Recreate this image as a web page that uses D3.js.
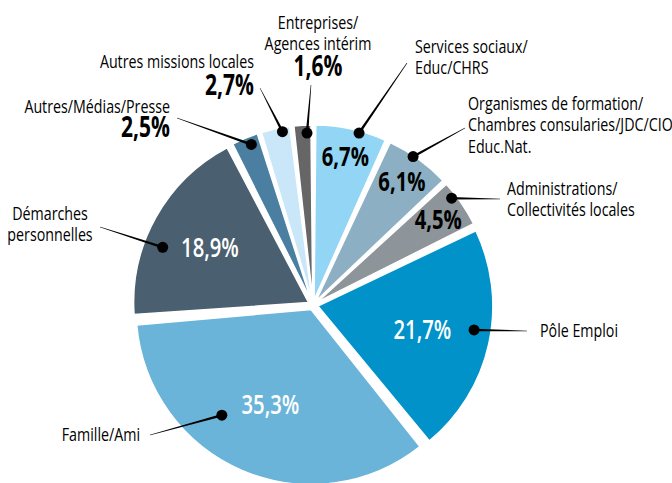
<!DOCTYPE html>
<html>
<head>
<meta charset="utf-8">
<script src="https://cdn.jsdelivr.net/npm/d3@7"></script>
<style>
  body { margin: 0; background: #fff; }
  svg { display: block; font-family: "Open Sans", "Noto Sans", sans-serif; }
</style>
</head>
<body>
<svg id="chart"></svg>
<script>
// slices, clockwise from 12 o'clock
const categories = ["Services sociaux", "Organismes de formation", "Administrations", "Pôle Emploi",
                    "Famille/Ami", "Démarches personnelles", "Autres/Médias/Presse",
                    "Autres missions locales", "Entreprises"];
const values = [6.7, 6.1, 4.5, 21.7, 35.3, 18.9, 2.5, 2.7, 1.6];
const labelLines = [
  ["Services sociaux/", "Educ/CHRS"],
  ["Organismes de formation/", "Chambres consularies/JDC/CIO", "Educ.Nat."],
  ["Administrations/", "Collectivités locales"],
  ["Pôle Emploi"],
  ["Famille/Ami"],
  ["Démarches", "personnelles"],
  ["Autres/Médias/Presse"],
  ["Autres missions locales"],
  ["Entreprises/", "Agences intérim"]
];
const colors = ["#92d5f4", "#8cafc3", "#8d959a", "#0092c9", "#6bb4d9", "#4a5f6f", "#4a7fa1", "#c9e7f9", "#666666"];

const width = 672, height = 483;
const cx = 313, cy = 305;
const radius = 175;
const explode = 5;
const squeeze = 0.75; // no condensed font available: narrow the glyphs horizontally

// callout layout per slice: where the dot sits, where the leader ends, where the text goes
const layout = [
  {pct: "in", pctR: 152, pctFill: "#000", pctWeight: 700, dotA: 15, dotR: 178, end: [407, 63], tx: 415, ty: 53, anchor: "start"},
  {pct: "in", pctR: 152, pctFill: "#000", pctWeight: 700, dotA: 34, dotR: 179, end: [465, 128], tx: 468, ty: 110, anchor: "start"},
  {pct: "in", pctR: 152, pctFill: "#000", pctWeight: 700, dotA: 52.4, dotR: 175, end: [500, 199], tx: 507, ty: 195, anchor: "start"},
  {pct: "in", pctR: 112, pctFill: "#fff", pctWeight: 600, dotA: 98.8, dotR: 163, end: [527, 331], tx: 540, ty: 337, anchor: "start"},
  {pct: "in", pctR: 108, pctFill: "#fff", pctWeight: 600, dotA: 219.6, dotR: 143, end: [150, 435], tx: 140, ty: 441, anchor: "end"},
  {pct: "in", pctR: 118, pctFill: "#fff", pctWeight: 600, dotA: 291, dotR: 161, end: [100, 227], tx: 50, ty: 220, anchor: "middle"},
  {pct: "out", dotA: 339, dotR: 172, end: [177, 118], tx: 170, ty: 113, anchor: "end", px: 170, py: 137},
  {pct: "out", dotA: 350, dotR: 176, end: [260, 88], tx: 254, ty: 68, anchor: "end", px: 254, py: 95},
  {pct: "out", dotA: 358, dotR: 172, end: [311, 85], tx: 318, ty: 29, anchor: "middle", px: 318, py: 76}
];

const fmt = v => d3.format(".1f")(v).replace(".", ",") + "%";
const rad = deg => deg * Math.PI / 180;
const polar = (a, r) => [cx + r * Math.sin(a), cy - r * Math.cos(a)];

const svg = d3.select("#chart").attr("width", width).attr("height", height);

function addText(x, y, lines, opts) {
  const t = svg.append("g")
    .attr("transform", `translate(${x},${y}) scale(${squeeze},1)`)
    .append("text")
    .attr("text-anchor", opts.anchor || "start")
    .attr("font-size", opts.size)
    .attr("font-weight", opts.weight || "normal")
    .attr("fill", opts.fill || "#000");
  lines.forEach((line, j) => {
    t.append("tspan")
      .attr("x", 0)
      .attr("dy", j === 0 ? (opts.dy || 0) : 21.5)
      .text(line);
  });
  return t;
}

const pie = d3.pie().sort(null).value(d => d).padAngle(0.02);
const arcs = pie(values);
const arc = d3.arc().innerRadius(0).outerRadius(radius);

const g = svg.append("g").attr("transform", `translate(${cx},${cy})`);

g.selectAll("path.slice")
  .data(arcs)
  .join("path")
  .attr("class", "slice")
  .attr("d", arc)
  .attr("fill", (d, i) => colors[i])
  .attr("stroke", "#fff")
  .attr("stroke-width", 1.5)
  .attr("transform", d => {
    const m = (d.startAngle + d.endAngle) / 2;
    return `translate(${explode * Math.sin(m)},${-explode * Math.cos(m)})`;
  });

// percentages inside slices
arcs.forEach((d, i) => {
  const L = layout[i];
  if (L.pct !== "in") return;
  const m = (d.startAngle + d.endAngle) / 2;
  const [x, y] = polar(m, L.pctR);
  addText(x, y, [fmt(values[i])], {
    anchor: "middle", dy: "0.36em",
    size: "27px",
    weight: L.pctWeight,
    fill: L.pctFill
  });
});

// leader lines (tapered) + dots
arcs.forEach((d, i) => {
  const L = layout[i];
  const [x0, y0] = polar(rad(L.dotA), L.dotR);
  const [x1, y1] = L.end;
  const len = Math.hypot(x1 - x0, y1 - y0);
  const nx = -(y1 - y0) / len, ny = (x1 - x0) / len;
  const w0 = 1.3, w1 = 0.25;
  svg.append("path")
    .attr("d", `M${x0 + nx * w0},${y0 + ny * w0}L${x1 + nx * w1},${y1 + ny * w1}L${x1 - nx * w1},${y1 - ny * w1}L${x0 - nx * w0},${y0 - ny * w0}Z`)
    .attr("fill", "#000");
  svg.append("circle")
    .attr("cx", x0).attr("cy", y0)
    .attr("r", 5.5)
    .attr("fill", "#000");
});

// category labels
layout.forEach((L, i) => {
  addText(L.tx, L.ty, labelLines[i], {anchor: L.anchor, size: "19px"});
  if (L.pct === "out") {
    addText(L.px, L.py, [fmt(values[i])], {anchor: L.anchor, size: "28px", weight: "bold"});
  }
});
</script>
</body>
</html>
